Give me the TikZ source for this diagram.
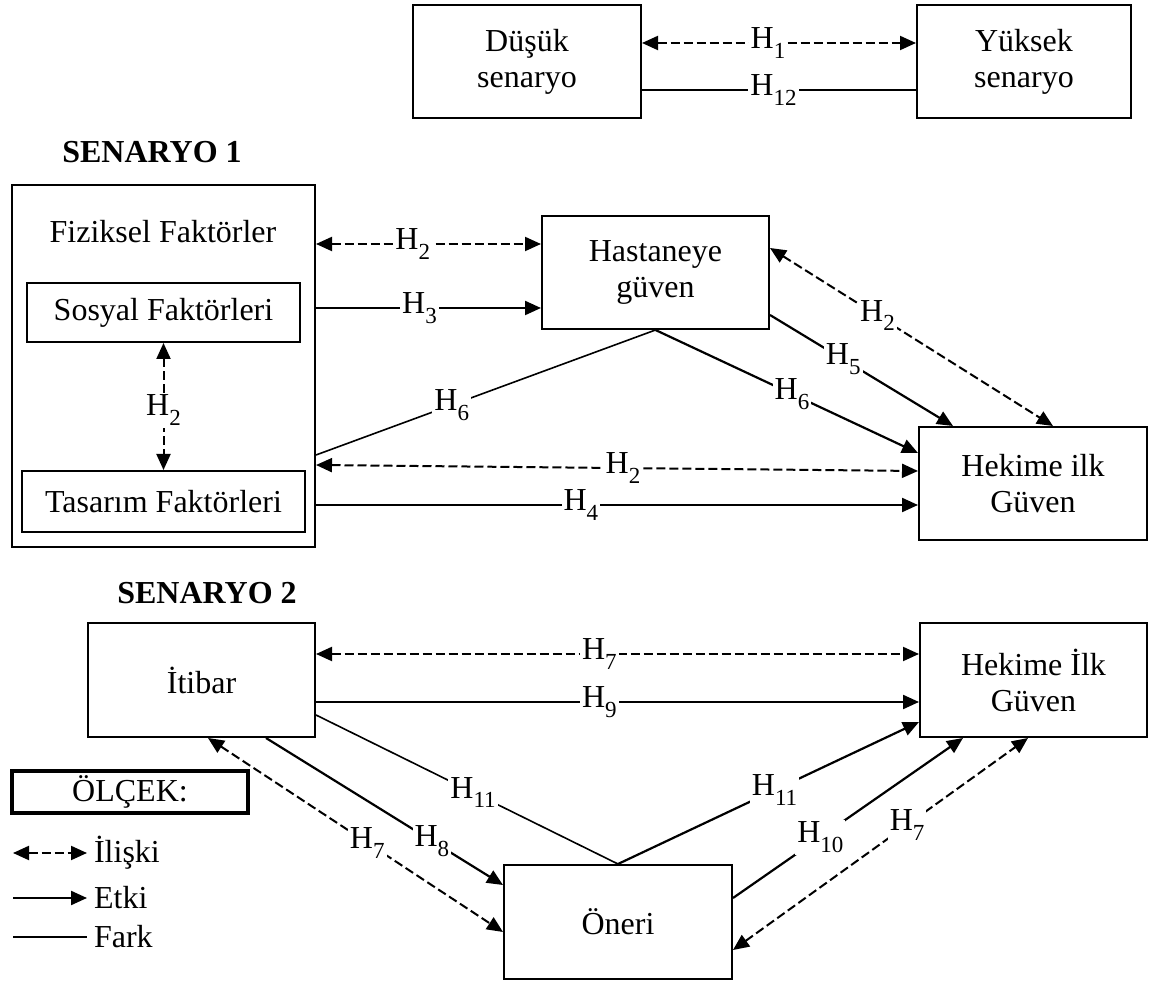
\documentclass[tikz,border=0pt]{standalone}
\usepackage{fontspec}
\setmainfont{Liberation Serif}
\usepackage{tikz}
\usetikzlibrary{positioning, calc, arrows.meta}
\newcommand{\hip}[1]{H\raisebox{-0.3em}{\fontsize{11.5}{12}\selectfont#1}}

\begin{document}
\begin{tikzpicture}[x=0.5pt, y=-0.5pt,
    font=\fontsize{16}{18}\selectfont,
    kutu/.style={draw, line width=1pt, inner sep=0pt, align=center},
    baslik/.style={font=\fontsize{16}{18}\selectfont\bfseries},
    lbl/.style={fill=white, inner sep=1pt},
    iliski/.style={line width=1pt, dash pattern=on 4.5pt off 2pt,
      {Triangle[length=8pt,width=7pt]}-{Triangle[length=8pt,width=7pt]}},
    etki/.style={line width=1.1pt, -{Triangle[length=8pt,width=7pt]}},
    fark/.style={line width=0.8pt}]
  \useasboundingbox (0,0) rectangle (1153,983);

  % top: low / high scenario
  \node[kutu, minimum width=114pt, minimum height=56.5pt] (DS) at (527,61.5) {Düşük\\senaryo};
  \node[kutu, minimum width=107pt, minimum height=56.5pt] (YS) at (1024,61.5) {Yüksek\\senaryo};

  % senaryo 1
  \node[baslik] (SEN1) at (152,152) {SENARYO 1};
  \node[kutu, minimum width=151.5pt, minimum height=181pt] (FF) at (163.5,366) {};
  \node (FFt) at (163,232) {Fiziksel Faktörler};
  \node[kutu, minimum width=136.5pt, minimum height=29.5pt] (SF) at (163.5,312.5) {Sosyal Faktörleri};
  \node[kutu, minimum width=141.5pt, minimum height=30.5pt] (TF) at (163.5,501.5) {Tasarım Faktörleri};
  \node[kutu, minimum width=113.5pt, minimum height=56.5pt] (HG) at (655.5,272.5) {Hastaneye\\güven};
  \node[kutu, minimum width=114pt, minimum height=56.5pt] (HI1) at (1033,483.5) {Hekime ilk\\Güven};

  % senaryo 2
  \node[baslik] (SEN2) at (207,593) {SENARYO 2};
  \node[kutu, minimum width=113.5pt, minimum height=57pt] (IT) at (201.5,680) {İtibar};
  \node[kutu, minimum width=113.5pt, minimum height=57pt] (HI2) at (1033.5,680) {Hekime İlk\\Güven};
  \node[kutu, minimum width=114pt, minimum height=57pt] (ON) at (618,922) {Öneri};

  % scale
  \node[kutu, line width=2pt, minimum width=118pt, minimum height=21pt] (OL) at (130,792) {ÖLÇEK:};
  \coordinate (L1) at (13,853);
  \coordinate (L2) at (13,898);
  \coordinate (L3) at (13,937);
  \node[anchor=west] (T1) at (87,853) {İlişki};
  \node[anchor=west] (T2) at (87,898) {Etki};
  \node[anchor=west] (T3) at (87,937) {Fark};
  \draw[iliski] (L1) -- (T1.west);
  \draw[etki] (L2) -- (T2.west);
  \draw[fark] (L3) -- (T3.west);

  \draw[iliski] ([yshift=9.25pt]DS.east) -- node[lbl, pos=0.46] {\hip{1}} ([yshift=9.25pt]YS.west);
  \draw[fark] ([yshift=-14.25pt]DS.east) -- node[lbl, pos=0.48] {\hip{12}} ([yshift=-14.25pt]YS.west);

  \draw[iliski] ([yshift=61pt]FF.east) -- node[lbl, pos=0.43] {\hip{2}} ([yshift=14.25pt]HG.west);
  \draw[etki] ([yshift=29pt]FF.east) -- node[lbl, pos=0.46] {\hip{3}} ([yshift=-17.75pt]HG.west);
  \draw[fark] (node cs:name=HG, anchor=south) -- node[lbl, pos=0.6] {\hip{6}} ([yshift=-44.5pt]FF.east);
  \draw[etki] (node cs:name=HG, anchor=south) -- node[lbl, pos=0.52] {\hip{6}} ([yshift=15.25pt]HI1.west);
  \draw[etki] ([yshift=-21.25pt]HG.east) -- node[lbl, pos=0.4] {\hip{5}} ([xshift=-40pt]HI1.north);
  \draw[iliski] ([yshift=12.25pt]HG.east) -- node[lbl, pos=0.38] {\hip{2}} ([xshift=10pt]HI1.north);
  \draw[iliski] ([yshift=-49.5pt]FF.east) -- node[lbl, pos=0.51] {\hip{2}} ([yshift=6.25pt]HI1.west);
  \draw[etki] ([yshift=-69.5pt]FF.east) -- node[lbl, pos=0.44] {\hip{4}} ([yshift=-10.75pt]HI1.west);
  \draw[iliski] (node cs:name=SF, anchor=south) -- node[lbl, pos=0.53] {\hip{2}} (node cs:name=TF, anchor=north);

  \draw[iliski] ([yshift=13pt]IT.east) -- node[lbl, pos=0.47] {\hip{7}} ([yshift=13pt]HI2.west);
  \draw[etki] ([yshift=-11pt]IT.east) -- node[lbl, pos=0.47] {\hip{9}} ([yshift=-11pt]HI2.west);
  \draw[fark] ([yshift=-17.5pt]IT.east) -- node[lbl, pos=0.52] {\hip{11}} (node cs:name=ON, anchor=north);
  \draw[etki] (node cs:name=ON, anchor=north) -- node[lbl, pos=0.52] {\hip{11}} ([yshift=-21pt]HI2.west);
  \draw[etki] ([xshift=32.25pt]IT.south) -- node[lbl, pos=0.7] {\hip{8}} ([yshift=18.5pt]ON.west);
  \draw[iliski] ([xshift=3.25pt]IT.south) -- node[lbl, pos=0.54] {\hip{7}} ([yshift=-5pt]ON.west);
  \draw[etki] ([yshift=12pt]ON.east) -- node[lbl, pos=0.38] {\hip{10}} ([xshift=-35.25pt]HI2.south);
  \draw[iliski] ([yshift=-14pt]ON.east) -- node[lbl, pos=0.59] {\hip{7}} ([xshift=-2.75pt]HI2.south);
\end{tikzpicture}
\end{document}
